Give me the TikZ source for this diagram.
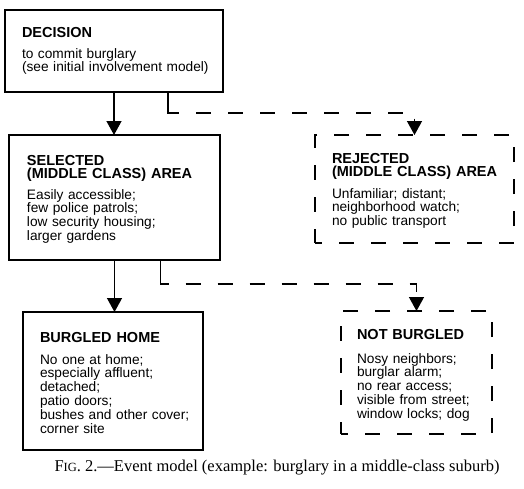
\documentclass[tikz,border=0pt]{standalone}
\usepackage{fontspec}
\setmainfont{Liberation Serif}
\setsansfont{Liberation Sans}
\usetikzlibrary{arrows.meta}

\begin{document}
\begin{tikzpicture}[x=1pt, y=-1pt, node distance=0 cm, outer sep = 0pt]

\tikzstyle{box}=[draw, rectangle, line width=1.4pt, anchor=north west, inner sep=0pt]
\tikzstyle{dashbox}=[box, dash pattern=on 15pt off 17pt, dash phase=8pt]
\tikzstyle{head}=[anchor=base west, inner sep=0pt, text width=200pt, align=left, font=\sffamily\bfseries\fontsize{14.5}{13.5}\selectfont]
\tikzstyle{body}=[anchor=base west, inner sep=0pt, text width=200pt, align=left, font=\sffamily\fontsize{13.7}{13.8}\selectfont]
\tikzstyle{link}=[line width=1.3pt, -{Triangle[length=14pt, width=15pt]}]
\tikzstyle{dashlink}=[link, dash pattern=on 32pt off 17pt on 15pt off 17pt on 15pt off 17pt on 15pt off 17pt on 15pt off 17pt on 15pt off 17pt on 15pt off 17pt on 15pt off 17pt on 15pt off 17pt on 15pt off 17pt]

\useasboundingbox (0,0) rectangle (524,488);

% boxes
\node[box, minimum width=218pt, minimum height=82pt] (decision) at (5,10) {};
\node[box, minimum width=211pt, minimum height=125pt] (selected) at (9,135) {};
\node[dashbox, minimum width=199pt, minimum height=108pt] (rejected) at (315,135) {};
\node[box, minimum width=180pt, minimum height=138pt] (burgled) at (23,312) {};
\node[dashbox, minimum width=151pt, minimum height=123pt] (notburgled) at (341,311) {};

% texts
\node[head] (decision-head) at (22,37) {DECISION};
\node[body] (decision-body) at (22,58) {to commit burglary\\(see initial involvement model)};
\node[head] (selected-head) at (27,165) {SELECTED\\(MIDDLE CLASS) AREA};
\node[body] (selected-body) at (27,199) {Easily accessible;\\few police patrols;\\low security housing;\\larger gardens};
\node[head] (rejected-head) at (332,163) {REJECTED\\(MIDDLE CLASS) AREA};
\node[body] (rejected-body) at (332,198) {Unfamiliar; distant;\\neighborhood watch;\\no public transport};
\node[head] (burgled-head) at (40,342) {BURGLED HOME};
\node[body] (burgled-body) at (40,364) {No one at home;\\especially affluent;\\detached;\\patio doors;\\bushes and other cover;\\corner site};
\node[head] (notburgled-head) at (357,339) {NOT BURGLED};
\node[body] (notburgled-body) at (357,363) {Nosy neighbors;\\burglar alarm;\\no rear access;\\visible from street;\\window locks; dog};

% connectors
\draw[link] (decision.south) -- (decision.south |- selected.north);
\draw[dashlink] ([xshift=54pt]decision.south) |- ([yshift=22pt]rejected.north) -- (rejected.north);
\draw[link] (selected.south) -- (selected.south |- burgled.north);
\draw[dashlink] ([xshift=46pt]selected.south) |- ([yshift=27pt]notburgled.north) -- (notburgled.north);

\node[anchor=base, font=\fontsize{16.5}{18}\selectfont] (caption) at (277,471) {F{\fontsize{12.5}{14}\selectfont IG}. 2.---Event model (example: burglary in a middle-class suburb)};

\end{tikzpicture}
\end{document}
